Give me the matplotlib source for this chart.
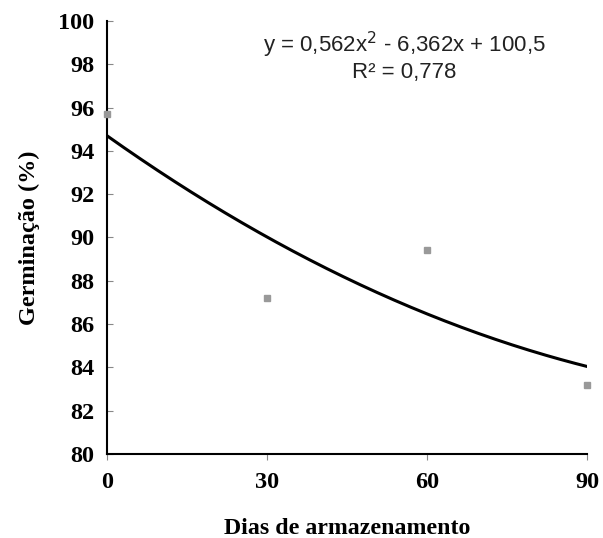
import numpy as np
import matplotlib.pyplot as plt

# storage days and germination (%)
dias = [0, 30, 60, 90]
germinacao = [95.7, 87.2, 89.4, 83.2]

# quadratic fit on coded x (1..4)
coef = [0.562, -6.362, 100.5]
r2 = 0.778

plt.rcParams['font.family'] = ['Liberation Serif', 'DejaVu Serif']

fig = plt.figure(figsize=(6.03, 5.38), dpi=100)
ax = fig.add_axes([107/603, 1 - 454/538, 480/603, 433/538])

xs = np.linspace(0, 90, 200)
xc = xs / 30 + 1
ax.plot(xs, np.polyval(coef, xc), color='black', lw=2.2, zorder=2)
ax.plot(dias, germinacao, 's', color='#999999', ms=4.5, clip_on=False, zorder=3)

ax.set_xlim(0, 90)
ax.set_ylim(80, 100)
ax.set_xticks(dias)
ax.set_yticks(np.arange(80, 101, 2))

for s in ['top', 'right']:
    ax.spines[s].set_visible(False)
for s in ['left', 'bottom']:
    ax.spines[s].set_linewidth(1.5)

ax.tick_params(axis='y', direction='in', length=4, width=0.8, colors='#888888',
               labelcolor='black', labelsize=17.5, pad=9)
ax.tick_params(axis='x', direction='out', length=4, width=0.8, colors='#888888',
               labelcolor='black', labelsize=17.5, pad=9)
for lab in ax.get_xticklabels() + ax.get_yticklabels():
    lab.set_fontweight('bold')

ax.set_xlabel('Dias de armazenamento', fontsize=17.2, fontweight='bold', labelpad=18)
ax.set_ylabel('Germinação (%)', fontsize=17.5, fontweight='bold', labelpad=13)

eq = 'y = {:.3f}x$^2$ - {:.3f}x + {:.1f}'.format(coef[0], -coef[1], coef[2]).replace('.', ',')
ax.text(0.62, 0.945, eq, transform=ax.transAxes, ha='center', va='center',
        fontsize=16, family='Liberation Sans', color='#222222')
ax.text(0.62, 0.88, 'R² = {:.3f}'.format(r2).replace('.', ','), transform=ax.transAxes,
        ha='center', va='center', fontsize=16, family='Liberation Sans', color='#222222')

fig.savefig('out.png', dpi=100)
